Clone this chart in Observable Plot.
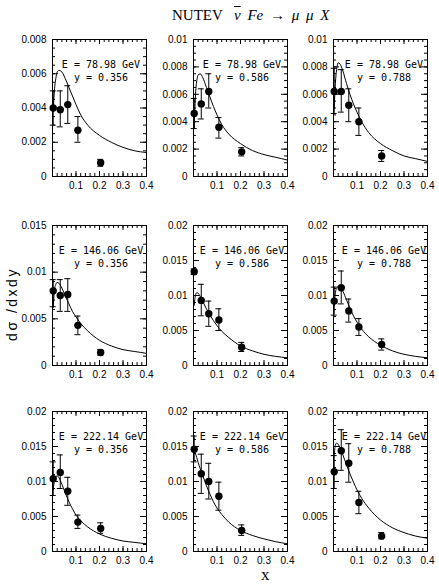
<!DOCTYPE html>
<html><head><meta charset="utf-8">
<script src="https://cdn.jsdelivr.net/npm/d3@7"></script>
<script src="https://cdn.jsdelivr.net/npm/@observablehq/plot@0.6"></script>
<style>
body{margin:0;background:#fff;}
#chart{position:relative;width:439px;height:588px;overflow:hidden;background:#fff;}
.t{position:absolute;white-space:pre;color:#000;}
</style></head><body><div id="chart">
<div class="t" id="t1" style="left:172px;top:7px;font:15px 'Liberation Serif';">NUTEV</div>
<div class="t" id="t2" style="left:234px;top:7px;font:italic 15px 'Liberation Serif';word-spacing:3px;"><span style="text-decoration:overline;">ν</span> Fe → μ μ X</div>
<div class="t" id="ylab" style="left:-40px;top:296px;width:104px;text-align:center;font:14px 'Liberation Sans';letter-spacing:2.5px;transform:rotate(-90deg);">dσ /dxdy</div>
<div class="t" id="xlab" style="left:261px;top:565px;font:17px 'Liberation Serif';">x</div>
</div>
<script>
// ---- data ----
const energies = ["78.98", "146.06", "222.14"];
const yValues = ["0.356", "0.586", "0.788"];
const xBins = [0.003, 0.033, 0.065, 0.108, 0.205];
const xTicks = [0.1, 0.2, 0.3, 0.4];
const yTicks78 = [[0, 0.002, 0.004, 0.006, 0.008], [0, 0.002, 0.004, 0.006, 0.008, 0.01], [0, 0.002, 0.004, 0.006, 0.008, 0.01]];
const yTicks146 = [[0, 0.005, 0.01, 0.015], [0, 0.005, 0.01, 0.015, 0.02], [0, 0.005, 0.01, 0.015, 0.02]];
const yTicks222 = [[0, 0.005, 0.01, 0.015, 0.02], [0, 0.005, 0.01, 0.015, 0.02], [0, 0.005, 0.01, 0.015, 0.02]];
const yMinorStep = [0.0005, 0.001, 0.001];

// measured points (per y value: 0.356, 0.586, 0.788)
const val78 = [[0.0040, 0.0039, 0.0042, 0.0027, 0.0008], [0.0046, 0.0053, 0.0062, 0.0036, 0.0018], [0.0062, 0.0062, 0.0052, 0.0040, 0.0015]];
const lo78  = [[0.0030, 0.0029, 0.0031, 0.0020, 0.0006], [0.0035, 0.0042, 0.0050, 0.0028, 0.0015], [0.0046, 0.0047, 0.0040, 0.0030, 0.0011]];
const hi78  = [[0.0050, 0.0050, 0.0053, 0.0035, 0.0010], [0.0057, 0.0064, 0.0075, 0.0043, 0.0021], [0.0079, 0.0078, 0.0064, 0.0050, 0.0019]];
const val146 = [[0.0080, 0.0075, 0.0076, 0.0043, 0.0014], [0.0134, 0.0093, 0.0074, 0.0065, 0.0026], [0.0092, 0.0111, 0.0078, 0.0055, 0.0030]];
const lo146  = [[0.0063, 0.0058, 0.0058, 0.0033, 0.0011], [0.0130, 0.0071, 0.0056, 0.0050, 0.0020], [0.0072, 0.0088, 0.0062, 0.0043, 0.0022]];
const hi146  = [[0.0092, 0.0092, 0.0093, 0.0053, 0.0017], [0.0138, 0.0116, 0.0092, 0.0081, 0.0033], [0.0112, 0.0135, 0.0095, 0.0067, 0.0038]];
const val222 = [[0.0104, 0.0113, 0.0086, 0.0042, 0.0033], [0.0146, 0.0111, 0.0100, 0.0079, 0.0030], [0.0114, 0.0144, 0.0126, 0.0070, 0.0022]];
const lo222  = [[0.0080, 0.0090, 0.0066, 0.0033, 0.0026], [0.0128, 0.0083, 0.0075, 0.0059, 0.0023], [0.0090, 0.0116, 0.0099, 0.0054, 0.0018]];
const hi222  = [[0.0128, 0.0138, 0.0106, 0.0052, 0.0041], [0.0165, 0.0139, 0.0126, 0.0099, 0.0038], [0.0137, 0.0174, 0.0154, 0.0086, 0.0027]];

// theory curve, sampled at theoryX
const theoryX = [0.003, 0.008, 0.014, 0.02, 0.028, 0.04, 0.055, 0.07, 0.085, 0.1, 0.12, 0.15, 0.2, 0.25, 0.3, 0.35, 0.4];
const theory78 = [
  [0.0038, 0.0050, 0.0057, 0.0061, 0.0062, 0.0061, 0.0057, 0.0052, 0.0047, 0.0042, 0.0036, 0.0030, 0.0024, 0.0020, 0.0017, 0.0015, 0.0014],
  [0.0035, 0.0058, 0.0070, 0.0074, 0.0075, 0.0072, 0.0065, 0.0058, 0.0051, 0.0045, 0.0038, 0.0031, 0.0024, 0.0019, 0.0016, 0.0014, 0.0012],
  [0.0050, 0.0068, 0.0079, 0.0083, 0.0082, 0.0077, 0.0068, 0.0060, 0.0053, 0.0047, 0.0040, 0.0032, 0.0024, 0.0019, 0.0015, 0.0013, 0.0011]];
const theory146 = [
  [0.0062, 0.0080, 0.0087, 0.0089, 0.0088, 0.0083, 0.0074, 0.0066, 0.0058, 0.0052, 0.0045, 0.0037, 0.0027, 0.0021, 0.0017, 0.0015, 0.0013],
  [0.0086, 0.0100, 0.0104, 0.0103, 0.0099, 0.0091, 0.0081, 0.0072, 0.0064, 0.0057, 0.0049, 0.0040, 0.0028, 0.0021, 0.0016, 0.0013, 0.0011],
  [0.0085, 0.0104, 0.0111, 0.0113, 0.0112, 0.0106, 0.0094, 0.0082, 0.0071, 0.0062, 0.0052, 0.0041, 0.0029, 0.0021, 0.0016, 0.0013, 0.0011]];
const theory222 = [
  [0.0088, 0.0101, 0.0107, 0.0108, 0.0105, 0.0096, 0.0083, 0.0071, 0.0061, 0.0052, 0.0044, 0.0035, 0.0025, 0.0019, 0.0015, 0.0013, 0.0011],
  [0.0143, 0.0140, 0.0134, 0.0127, 0.0119, 0.0108, 0.0094, 0.0082, 0.0071, 0.0062, 0.0053, 0.0042, 0.0030, 0.0023, 0.0018, 0.0014, 0.0011],
  [0.0138, 0.0152, 0.0155, 0.0153, 0.0148, 0.0138, 0.0124, 0.0111, 0.0099, 0.0088, 0.0076, 0.0062, 0.0045, 0.0034, 0.0027, 0.0022, 0.0019]];

// ---- layout ----
const W = 94;
const rowH = [137, 140, 140];
const colLeft = [52, 193, 333];
const rowTop = [39, 225, 411];
const mL = 44, mR = 8, mT = 6, mB = 20;
const labelDx = [1.5, 1.5, 3.5];

const rows = [
  {E: energies[0], val: val78, lo: lo78, hi: hi78, th: theory78, yt: yTicks78},
  {E: energies[1], val: val146, lo: lo146, hi: hi146, th: theory146, yt: yTicks146},
  {E: energies[2], val: val222, lo: lo222, hi: hi222, th: theory222, yt: yTicks222}
];

const chart = document.getElementById("chart");
const xMinor = d3.range(0, 21).map(i => i * 0.02);

rows.forEach((row, r) => {
  const H = rowH[r];
  yValues.forEach((yv, c) => {
    const ticks = row.yt[c];
    const ymax = ticks[ticks.length - 1];
    const step = yMinorStep[r];
    const yMinor = d3.range(0, Math.round(ymax / step) + 1).map(i => i * step);
    const pts = xBins.map((x, i) => ({x, v: row.val[c][i], lo: row.lo[c][i], hi: row.hi[c][i]}));
    const th = theoryX.map((x, i) => ({x, v: row.th[c][i]}));
    const svg = Plot.plot({
      width: mL + W + mR, height: mT + H + mB,
      marginLeft: mL, marginRight: mR, marginTop: mT, marginBottom: mB,
      x: {domain: [0, 0.4]},
      y: {domain: [0, ymax]},
      style: {background: "transparent", color: "black", fontFamily: "Liberation Sans", fontSize: "10px", overflow: "visible"},
      marks: [
        Plot.frame({stroke: "black", strokeWidth: 1}),
        // inward ticks on all four sides
        Plot.ruleX(xMinor, {x: d => d, insetTop: H - 3, stroke: "black"}),
        Plot.ruleX(xMinor, {x: d => d, insetBottom: H - 3, stroke: "black"}),
        Plot.ruleX(xTicks, {x: d => d, insetTop: H - 5, stroke: "black"}),
        Plot.ruleX(xTicks, {x: d => d, insetBottom: H - 5, stroke: "black"}),
        Plot.ruleY(yMinor, {y: d => d, insetRight: W - 3, stroke: "black"}),
        Plot.ruleY(yMinor, {y: d => d, insetLeft: W - 3, stroke: "black"}),
        Plot.ruleY(ticks, {y: d => d, insetRight: W - 6, stroke: "black"}),
        Plot.ruleY(ticks, {y: d => d, insetLeft: W - 6, stroke: "black"}),
        Plot.axisX({ticks: xTicks, tickSize: 0, tickPadding: 5, label: null, tickFormat: d => String(d)}),
        Plot.axisY({ticks: ticks, tickSize: 0, tickPadding: 6, label: null, tickFormat: d => String(d)}),
        // theory
        Plot.line(th, {x: "x", y: "v", curve: "monotone-x", stroke: "black", strokeWidth: 1}),
        // data with error bars
        Plot.ruleX(pts, {x: "x", y1: "lo", y2: "hi", stroke: "black", strokeWidth: 1}),
        Plot.ruleY(pts, {y: "lo", x1: "x", x2: "x", insetLeft: -3, insetRight: -3, stroke: "black"}),
        Plot.ruleY(pts, {y: "hi", x1: "x", x2: "x", insetLeft: -3, insetRight: -3, stroke: "black"}),
        Plot.dot(pts, {x: "x", y: "v", r: 3.7, fill: "black", stroke: null}),
        // annotation
        Plot.text([`E = ${row.E} GeV`], {text: d => d, frameAnchor: "top", dx: labelDx[c], dy: 21, fontFamily: "DejaVu Sans Mono", fontSize: 10, fill: "black"}),
        Plot.text([`y = ${yv}`], {text: d => d, frameAnchor: "top", dx: labelDx[c], dy: 34, fontFamily: "DejaVu Sans Mono", fontSize: 10, fill: "black"})
      ]
    });
    svg.style.position = "absolute";
    svg.style.left = (colLeft[c] - mL) + "px";
    svg.style.top = (rowTop[r] - mT) + "px";
    chart.appendChild(svg);
  });
});
</script></body></html>
